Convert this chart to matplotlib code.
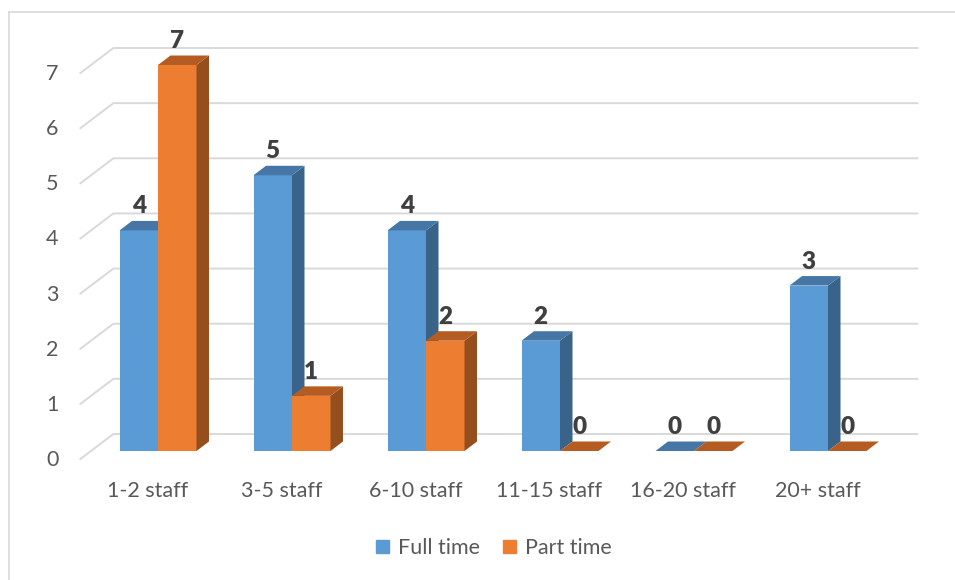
import numpy as np
import matplotlib
matplotlib.use('Agg')
import matplotlib.pyplot as plt
from matplotlib.patches import Polygon, Patch
from matplotlib.lines import Line2D

plt.rcParams['font.family'] = ['Lato', 'DejaVu Sans']

categories = ['1-2 staff', '3-5 staff', '6-10 staff', '11-15 staff', '16-20 staff', '20+ staff']
full_time = [4, 5, 4, 2, 0, 3]
part_time = [7, 1, 2, 0, 0, 0]
series_names = ['Full time', 'Part time']
y_ticks = [0, 1, 2, 3, 4, 5, 6, 7]

# face colours: front, top, side
blue = ('#5B9BD5', '#4676A6', '#3A6389')
orange = ('#ED7D31', '#B45C21', '#954F1E')
grid_col = '#D9D9D9'
text_col = '#595959'

W, H = 955, 580
fig = plt.figure(figsize=(W / 100, H / 100), dpi=100)
fig.patch.set_facecolor('white')

# axes = front plane of the bars
ax_l, ax_r = 91, 895          # px from left
ax_top, ax_bot = 65, 451      # px from top (value 7 and value 0)
ax = fig.add_axes([ax_l / W, (H - ax_bot) / H, (ax_r - ax_l) / W, (ax_bot - ax_top) / H])
ax.set_xlim(-0.5, 5.5)
ax.set_ylim(0, 7)
ax.axis('off')

# px -> data units
ux = 6.0 / (ax_r - ax_l)
uy = 7.0 / (ax_bot - ax_top)

# depth direction (px): bar back, floor front, back wall
bdx, bdy = 12.5 * ux, 9.5 * uy
fdx, fdy = -10.6 * ux, -8 * uy
wdx, wdy = 22.4 * ux, 17 * uy

# gridlines (floor diagonal + back wall)
for v in y_ticks:
    ax.plot([-0.5 + fdx, -0.5 + wdx, 5.5 + wdx], [v + fdy, v + wdy, v + wdy],
            color=grid_col, lw=1.4, clip_on=False, zorder=1)
    ax.text(-0.5 + fdx - 22 * ux, v + fdy - 1 * uy, str(v), ha='right', va='center',
            fontsize=15.5, color=text_col, clip_on=False)

# category labels
x = np.arange(len(categories))
for xi, lab in zip(x, categories):
    ax.text(xi + fdx, fdy - 32 * uy, lab, ha='center', va='center',
            fontsize=15.5, color=text_col, clip_on=False)

bw = 38.5 * ux


def draw_bar(x0, v, cols, z):
    front, top, side = cols
    if v > 0:
        ax.bar(x0, v, width=bw, align='edge', color=front, lw=0, zorder=z, clip_on=False)
        ax.add_patch(Polygon([(x0 + bw, 0), (x0 + bw, v), (x0 + bw + bdx, v + bdy), (x0 + bw + bdx, bdy)],
                             closed=True, fc=side, lw=0, zorder=z, clip_on=False))
    ax.add_patch(Polygon([(x0, v), (x0 + bw, v), (x0 + bw + bdx, v + bdy), (x0 + bdx, v + bdy)],
                         closed=True, fc=top, lw=0, zorder=z, clip_on=False))
    ax.text(x0 + bw / 2, v + 24 * uy, str(v), ha='center', va='center', fontsize=17.5,
            fontweight='heavy', color='#404040', clip_on=False, zorder=10)


for i in range(len(categories)):
    draw_bar(x[i] - bw, full_time[i], blue, 3)
    draw_bar(x[i], part_time[i], orange, 4)

# legend
handles = [Patch(color=blue[0]), Patch(color=orange[0])]
fig.legend(handles, series_names, loc='center', bbox_to_anchor=(494 / W, 32 / H), ncol=2,
           frameon=False, fontsize=15.5, handlelength=0.6, handleheight=0.6,
           handletextpad=0.4, columnspacing=1.1, labelcolor=text_col)

# chart area border (left and top visible)
fig.add_artist(Line2D([8.5 / W, 8.5 / W], [0, 1 - 12 / H], color=grid_col, lw=1.2))
fig.add_artist(Line2D([8.5 / W, 1], [1 - 12 / H, 1 - 12 / H], color=grid_col, lw=1.2))

fig.savefig('out.png', dpi=100, facecolor='white')
